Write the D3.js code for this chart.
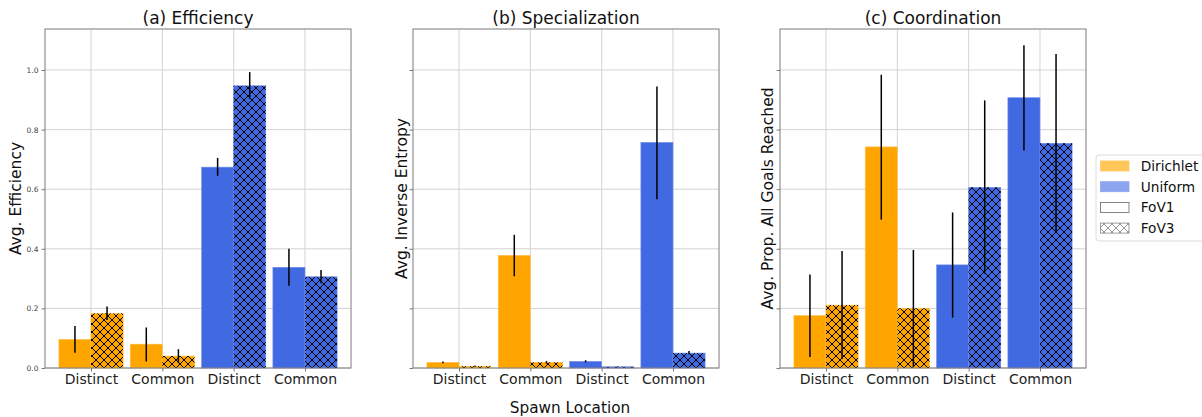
<!DOCTYPE html>
<html>
<head>
<meta charset="utf-8">
<script src="https://cdn.jsdelivr.net/npm/d3@7"></script>
<style>
  html, body { margin: 0; padding: 0; background: #fff; }
  svg { display: block; font-family: "DejaVu Sans", sans-serif; }
</style>
</head>
<body>
<svg id="chart" width="1202" height="417"></svg>
<script>
// ---------------- data ----------------
const categories = ["Distinct", "Common", "Distinct", "Common"];
const distributions = ["Dirichlet", "Dirichlet", "Uniform", "Uniform"];
const fovs = ["FoV1", "FoV3"];
const yTicks = [0.0, 0.2, 0.4, 0.6, 0.8, 1.0];

const efficiencyFoV1 = [0.096, 0.080, 0.674, 0.338];
const efficiencyFoV1Err = [[0.051, 0.141], [0.022, 0.136], [0.645, 0.705], [0.276, 0.400]];
const efficiencyFoV3 = [0.183, 0.040, 0.947, 0.306];
const efficiencyFoV3Err = [[0.161, 0.206], [0.016, 0.063], [0.903, 0.993], [0.284, 0.329]];

const specializationFoV1 = [0.019, 0.378, 0.022, 0.757];
const specializationFoV1Err = [[0.016, 0.022], [0.308, 0.447], [0.019, 0.026], [0.566, 0.945]];
const specializationFoV3 = [0.006, 0.019, 0.004, 0.050];
const specializationFoV3Err = [[0.004, 0.008], [0.015, 0.023], [0.003, 0.005], [0.046, 0.057]];

const coordinationFoV1 = [0.176, 0.742, 0.346, 0.907];
const coordinationFoV1Err = [[0.037, 0.314], [0.498, 0.984], [0.169, 0.522], [0.730, 1.083]];
const coordinationFoV3 = [0.211, 0.200, 0.606, 0.754];
const coordinationFoV3Err = [[0.030, 0.393], [0.004, 0.396], [0.316, 0.898], [0.452, 1.054]];

const titles = ["(a) Efficiency", "(b) Specialization", "(c) Coordination"];
const yLabels = ["Avg. Efficiency", "Avg. Inverse Entropy", "Avg. Prop. All Goals Reached"];
const xLabel = "Spawn Location";
const legendLabels = ["Dirichlet", "Uniform", "FoV1", "FoV3"];

// ---------------- styles ----------------
const colors = { Dirichlet: "#FFA500", Uniform: "#4169E1" };
const edgeColors = { Dirichlet: "#FFC04D", Uniform: "#6F8EEA" };
const legendColors = { Dirichlet: "#FFC759", Uniform: "#8DA5EE" };

const panelsData = [
  { v1: efficiencyFoV1, e1: efficiencyFoV1Err, v3: efficiencyFoV3, e3: efficiencyFoV3Err },
  { v1: specializationFoV1, e1: specializationFoV1Err, v3: specializationFoV3, e3: specializationFoV3Err },
  { v1: coordinationFoV1, e1: coordinationFoV1Err, v3: coordinationFoV3, e3: coordinationFoV3Err }
];
const panelLeft = [45, 413, 780];
const panelWidth = 306;
const plotTop = 29, plotBottom = 368;
const yLabelX = [20.5, 406.5, 773];
const barW = 0.45;

const svg = d3.select("#chart");

// hatch pattern
const defs = svg.append("defs");
function hatch(id, color, sw) {
  const p = defs.append("pattern").attr("id", id)
    .attr("patternUnits", "userSpaceOnUse").attr("width", 8).attr("height", 8);
  p.append("path").attr("d", "M-1,-1 L9,9 M-1,9 L9,-1 M-1,7 L1,9 M7,-1 L9,1 M-1,1 L1,-1 M7,9 L9,7")
    .attr("stroke", color).attr("stroke-width", sw).attr("fill", "none");
}
hatch("hatchBlack", "#000", 1.0);
hatch("hatchGray", "#888", 0.9);

const y = d3.scaleLinear().domain([0, 1.1376]).range([plotBottom, plotTop]);

panelsData.forEach((pd, pi) => {
  const left = panelLeft[pi];
  const x = d3.scaleLinear().domain([-0.645, 3.645]).range([left, left + panelWidth]);
  const g = svg.append("g");

  // grid
  g.selectAll(".hg").data(yTicks).join("line")
    .attr("x1", left).attr("x2", left + panelWidth)
    .attr("y1", d => y(d)).attr("y2", d => y(d))
    .attr("stroke", "#d3d3d3").attr("stroke-width", 1);
  g.selectAll(".vg").data(categories).join("line")
    .attr("x1", (d, i) => x(i)).attr("x2", (d, i) => x(i))
    .attr("y1", plotTop).attr("y2", plotBottom)
    .attr("stroke", "#d3d3d3").attr("stroke-width", 1);

  // bars
  const idx = d3.range(categories.length);
  g.selectAll(".b1").data(idx).join("rect")
    .attr("x", i => x(i - barW)).attr("width", i => x(i) - x(i - barW))
    .attr("y", i => y(pd.v1[i])).attr("height", i => y(0) - y(pd.v1[i]))
    .attr("fill", i => colors[distributions[i]])
    .attr("stroke", i => edgeColors[distributions[i]]).attr("stroke-width", 0.6);
  g.selectAll(".b3").data(idx).join("rect")
    .attr("x", i => x(i)).attr("width", i => x(i + barW) - x(i))
    .attr("y", i => y(pd.v3[i])).attr("height", i => y(0) - y(pd.v3[i]))
    .attr("fill", i => colors[distributions[i]])
    .attr("stroke", i => edgeColors[distributions[i]]).attr("stroke-width", 0.6);
  g.selectAll(".h3").data(idx).join("rect")
    .attr("x", i => x(i)).attr("width", i => x(i + barW) - x(i))
    .attr("y", i => y(pd.v3[i])).attr("height", i => y(0) - y(pd.v3[i]))
    .attr("fill", "url(#hatchBlack)");

  // error bars
  g.selectAll(".e1").data(idx).join("line")
    .attr("x1", i => x(i - barW / 2)).attr("x2", i => x(i - barW / 2))
    .attr("y1", i => y(pd.e1[i][0])).attr("y2", i => y(pd.e1[i][1]))
    .attr("stroke", "#000").attr("stroke-width", 1.5);
  g.selectAll(".e3").data(idx).join("line")
    .attr("x1", i => x(i + barW / 2)).attr("x2", i => x(i + barW / 2))
    .attr("y1", i => y(pd.e3[i][0])).attr("y2", i => y(pd.e3[i][1]))
    .attr("stroke", "#000").attr("stroke-width", 1.5);

  // frame
  g.append("rect").attr("x", left).attr("y", plotTop)
    .attr("width", panelWidth).attr("height", plotBottom - plotTop)
    .attr("fill", "none").attr("stroke", "#7a7a7a").attr("stroke-width", 1);

  // y axis
  const yAxis = d3.axisLeft(y).tickValues(yTicks).tickSize(3.5).tickPadding(3)
    .tickFormat(pi === 0 ? d3.format(".1f") : () => "");
  const ya = g.append("g").attr("transform", `translate(${left},0)`).call(yAxis);
  ya.select(".domain").remove();
  ya.selectAll("line").attr("stroke", "#7a7a7a");
  ya.selectAll("text").attr("font-size", "7.5px").attr("fill", "#444")
    .attr("font-family", "DejaVu Sans");

  // x axis
  const xAxis = d3.axisBottom(x).tickValues(idx).tickSize(3.5).tickPadding(4)
    .tickFormat(i => categories[i]);
  const xa = g.append("g").attr("transform", `translate(0,${plotBottom})`).call(xAxis);
  xa.select(".domain").remove();
  xa.selectAll("line").attr("stroke", "#7a7a7a");
  xa.selectAll("text").attr("font-size", "14px").attr("fill", "#222")
    .attr("font-family", "DejaVu Sans").attr("dy", null).attr("y", 15.5);

  // title
  svg.append("text").attr("x", left + panelWidth / 2).attr("y", 24)
    .attr("text-anchor", "middle").attr("font-size", "17px").attr("fill", "#111")
    .text(titles[pi]);
  // y label
  svg.append("text")
    .attr("transform", `translate(${yLabelX[pi]},${(plotTop + plotBottom) / 2}) rotate(-90)`)
    .attr("text-anchor", "middle").attr("font-size", "15.5px").attr("fill", "#111")
    .text(yLabels[pi]);
});

// x label
svg.append("text").attr("x", 570).attr("y", 412.5)
  .attr("text-anchor", "middle").attr("font-size", "15.3px").attr("fill", "#111")
  .text(xLabel);

// legend
const lg = svg.append("g");
lg.append("rect").attr("x", 1096).attr("y", 155).attr("width", 120).attr("height", 86)
  .attr("rx", 3).attr("fill", "#fff").attr("stroke", "#dcdcdc").attr("stroke-width", 1);
const legendFill = [legendColors.Dirichlet, legendColors.Uniform, "#fff", "#fff"];
const legendStroke = [legendColors.Dirichlet, legendColors.Uniform, "#666", "#888"];
legendLabels.forEach((lab, i) => {
  const cy = 166 + i * 20.7;
  lg.append("rect").attr("x", 1100.5).attr("y", cy - 5).attr("width", 28.5).attr("height", 10)
    .attr("fill", legendFill[i]).attr("stroke", legendStroke[i]).attr("stroke-width", 0.8);
  if (lab === "FoV3") {
    lg.append("rect").attr("x", 1100.5).attr("y", cy - 5).attr("width", 28.5).attr("height", 10)
      .attr("fill", "url(#hatchGray)");
  }
  lg.append("text").attr("x", 1140.7).attr("y", cy + 5).attr("font-size", "13.7px")
    .attr("fill", "#111").text(lab);
});
</script>
</body>
</html>
